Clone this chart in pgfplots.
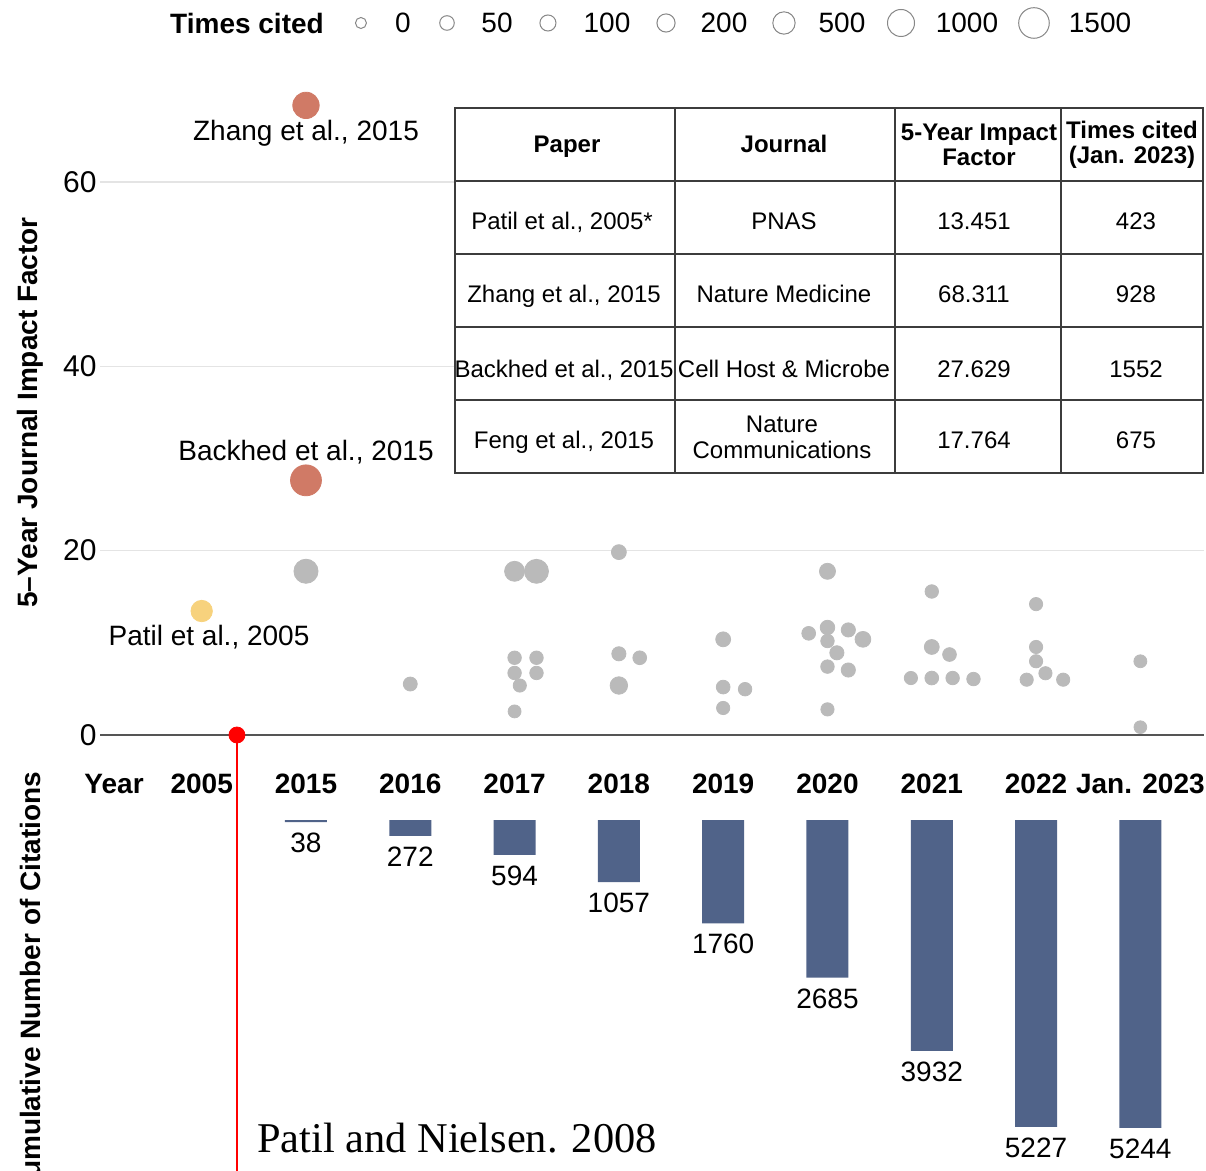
\documentclass[border=0pt]{standalone}
\usepackage{pgfplots}
\pgfplotsset{compat=1.18}
\usepackage{pgfplotstable}
\usepackage{fontspec}
\setmainfont{Liberation Sans}
\newfontfamily\seriffont{Liberation Serif}
\definecolor{dotgray}{RGB}{186,186,186}
\definecolor{dotred}{RGB}{208,122,102}
\definecolor{dotyellow}{RGB}{247,210,125}
\definecolor{barblue}{RGB}{80,99,137}
\definecolor{gridgray}{RGB}{228,228,228}
\definecolor{axisgray}{RGB}{85,85,85}
\definecolor{leggray}{RGB}{135,135,135}
\definecolor{tabline}{RGB}{60,60,60}

% x = slot (2005 -> 0, 2015 -> 1, ..., Jan. 2023 -> 9, with jitter), y = 5-year IF, c = times cited
\pgfplotstableread{
x y c
1 17.764 675
2 5.53 35
3 17.76 316
3.21 17.76 660
3 8.38 25
3.21 8.38 25
3 6.73 25
3.21 6.73 25
3.05 5.37 20
3 2.56 15
4 19.84 60
4 8.81 40
4.2 8.38 30
4 5.37 165
5 10.38 60
5 5.2 30
5.21 4.97 25
5 2.93 20
6 17.76 100
5.82 11.03 30
6 11.66 50
6.2 11.4 40
6.34 10.38 90
6 10.2 25
6.09 8.92 40
6 7.42 25
6.2 7.05 40
6 2.78 20
7 15.57 25
7 9.55 60
7.17 8.73 30
6.8 6.18 20
7 6.18 30
7.2 6.18 25
7.4 6.07 25
8 14.2 20
8 9.55 20
8 8.0 20
8.09 6.7 20
7.91 6.0 20
8.26 6.0 20
9 8.0 15
9 0.85 12
}\graydots

\pgfplotstableread{
x y c
1 68.311 928
1 27.629 1552
}\reddots

\pgfplotstableread{
x y c
0 13.451 423
}\yellowdots

\pgfplotstableread{
x y c
1.527 77.25 0
2.352 77.25 50
3.32 77.25 100
4.452 77.25 200
5.583 77.25 500
6.705 77.25 1000
7.98 77.25 1500
}\legenddots

\pgfplotstableread{
x y
1 38
2 272
3 594
4 1057
5 1760
6 2685
7 3932
8 5227
9 5244
}\cumcites

\pgfplotsset{
  sizedots/.style 2 args={only marks, scatter, mark=*, point meta=\thisrow{c},
    scatter/use mapped color={draw=#1, fill=#2},
    visualization depends on={(5.5+0.253*sqrt(\thisrow{c}))*0.5 \as \msize},
    scatter/@pre marker code/.append style={/tikz/mark size=\msize pt}},
}

\begin{document}
\begin{tikzpicture}
\path[use as bounding box] (0pt,0pt) rectangle (603pt,-585.5pt);

\begin{axis}[
  at={(50pt,-367.5pt)}, anchor=south west,
  scale only axis, width=552pt, height=322.6pt,
  xmin=-0.975, xmax=9.61, ymin=0, ymax=70,
  clip=false,
  axis x line*=bottom, axis y line*=left,
  axis line style={-},
  x axis line style={draw=axisgray, line width=0.8pt},
  y axis line style={draw=none},
  ytick={0,20,40,60},
  ymajorgrids, grid style={gridgray, line width=0.8pt},
  major tick length=0pt,
  xtick={-0.84,0,1,2,3,4,5,6,7,8,9},
  xticklabels={Year,2005,2015,2016,2017,2018,2019,2020,2021,2022,Jan. 2023},
  xticklabel style={font=\fontsize{14}{16}\selectfont\bfseries, anchor=base, yshift=-29pt},
  yticklabel style={font=\fontsize{15}{17}\selectfont, anchor=east, inner sep=0pt, xshift=-1.5pt},
  /pgf/number format/assume math mode=true,
  ylabel={5--Year Journal Impact Factor},
  ylabel style={font=\fontsize{14}{16}\selectfont\bfseries, at={(axis description cs:-0.0634,0.5)}, anchor=center},
]
\addplot[sizedots={dotgray}{dotgray}] table {\graydots};
\addplot[sizedots={dotred}{dotred}] table {\reddots};
\addplot[sizedots={dotyellow}{dotyellow}] table {\yellowdots};
\addplot[sizedots={leggray}{white}, mark options={line width=0.5pt}] table {\legenddots};
\addplot[red, line width=1.25pt] coordinates {(0.338,0) (0.338,-48)};
\addplot[only marks, mark=*, mark size=4pt, red] coordinates {(0.338,0)};
\end{axis}

\begin{axis}[
  at={(50pt,-410pt)}, anchor=north west,
  scale only axis, width=552pt, height=176.16pt,
  xmin=-0.975, xmax=9.61, ymin=0, ymax=6000, y dir=reverse,
  hide axis, clip=false,
  ybar, bar width=21pt,
  /pgf/number format/.cd, 1000 sep={}, assume math mode=true, /pgfplots/.cd,
  nodes near coords, nodes near coords align={below},
  every node near coord/.append style={font=\fontsize{14}{16}\selectfont, black, yshift=-2pt},
]
\addplot[fill=barblue, draw=none] table {\cumcites};
\end{axis}

\begin{scope}[x=0.5pt,y=-0.5pt]
% size legend
\node[font=\fontsize{14}{16}\selectfont\bfseries] at (247,23) {Times cited};
\foreach \px/\t in {403/0, 497/50, 607/100, 724/200, 842/500, 967/1000, 1100/1500}
  \node[font=\fontsize{14}{16}\selectfont] at (\px,23) {\t};
% annotations
\node[anchor=base, font=\fontsize{14}{16}\selectfont] at (306,141) {Zhang et al., 2015};
\node[anchor=base, font=\fontsize{14}{16}\selectfont] at (306,461) {Backhed et al., 2015};
\node[anchor=base, font=\fontsize{14}{16}\selectfont] at (209,646) {Patil et al., 2005};
% table
\fill[white] (455,108) rectangle (1203,473);
\draw[tabline, line width=0.65pt] (455,108) rectangle (1203,473);
\foreach \yy in {181,254,327,400} \draw[tabline, line width=0.65pt] (455,\yy) -- (1203,\yy);
\foreach \xx in {675,895,1061} \draw[tabline, line width=0.65pt] (\xx,108) -- (\xx,473);
\begin{scope}[every node/.style={align=center, font=\fontsize{12}{12.5}\selectfont, inner sep=0pt}]
\node[anchor=base, font=\fontsize{12}{12.5}\selectfont\bfseries] at (567,152.6) {Paper};
\node[anchor=base, font=\fontsize{12}{12.5}\selectfont\bfseries] at (784,152.6) {Journal};
\node[font=\fontsize{12}{12.5}\selectfont\bfseries] at (979,144.5) {5-Year Impact\\Factor};
\node[font=\fontsize{12}{12.5}\selectfont\bfseries] at (1132,144.5) {Times cited\\(Jan. 2023)};
\node[anchor=base] at (562,229.6) {Patil et al., 2005*};
\node[anchor=base] at (784,229.6) {PNAS};
\node[anchor=base] at (974,229.6) {13.451};
\node[anchor=base] at (1136,229.6) {423};
\node[anchor=base] at (564,302.6) {Zhang et al., 2015};
\node[anchor=base] at (784,302.6) {Nature Medicine};
\node[anchor=base] at (974,302.6) {68.311};
\node[anchor=base] at (1136,302.6) {928};
\node[anchor=base] at (564,377.6) {Backhed et al., 2015};
\node[anchor=base] at (784,377.6) {Cell Host \& Microbe};
\node[anchor=base] at (974,377.6) {27.629};
\node[anchor=base] at (1136,377.6) {1552};
\node[anchor=base] at (564,448.6) {Feng et al., 2015};
\node[font=\fontsize{12}{13}\selectfont] at (782,437) {Nature\\Communications};
\node[anchor=base] at (974,448.6) {17.764};
\node[anchor=base] at (1136,448.6) {675};
\end{scope}
% lower panel label and citation note
\node[rotate=90, font=\fontsize{14}{16}\selectfont\bfseries] at (30,985) {Cumulative Number of Citations};
\node[anchor=base west, inner sep=0pt, font=\seriffont\fontsize{21.2}{24}\selectfont] at (257,1152) {Patil and Nielsen. 2008};
\end{scope}
\end{tikzpicture}
\end{document}
